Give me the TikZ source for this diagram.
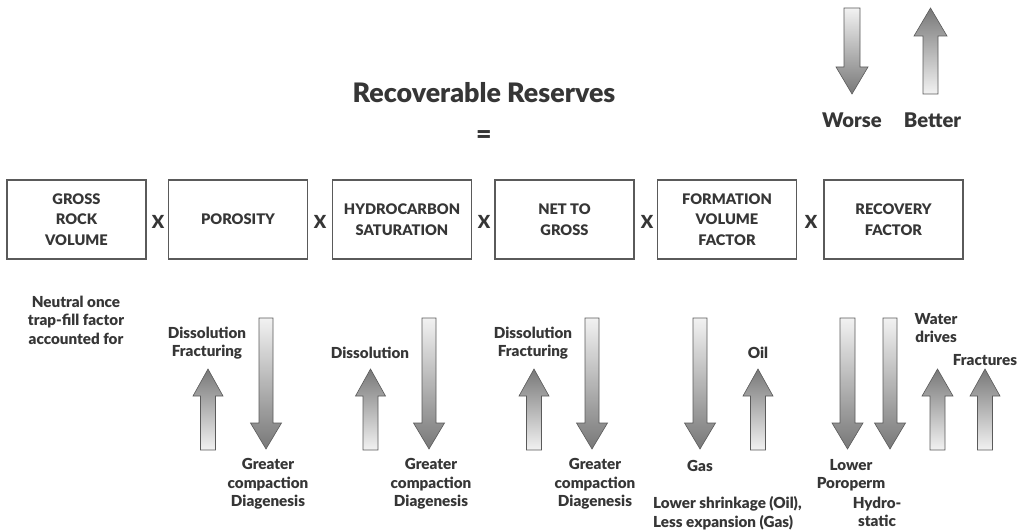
\documentclass[tikz,border=0pt]{standalone}
\usepackage{fontspec}
\setmainfont{Lato}[BoldFont={Lato Black}]
\definecolor{txt}{HTML}{363636}
\definecolor{edge}{HTML}{5A5A5A}
\definecolor{adark}{HTML}{787878}
\definecolor{alight}{HTML}{F2F2F2}
\tikzset{
  box/.style={draw=edge, line width=1.1pt, minimum width=139pt, minimum height=79pt,
    inner sep=0pt, align=center, text=txt, font=\bfseries\fontsize{14.6}{20.5}\selectfont},
  times/.style={text=txt, inner sep=0pt, font=\bfseries\fontsize{18}{18}\selectfont},
  lbl/.style={text=txt, inner sep=0pt, align=center, font=\bfseries\fontsize{15.2}{18.5}\selectfont},
  lbll/.style={lbl, align=left},
  title/.style={text=txt, inner sep=0pt, font=\bfseries\fontsize{26.8}{26.8}\selectfont},
  legend/.style={text=txt, inner sep=0pt, font=\bfseries\fontsize{20.2}{20.2}\selectfont},
  uparrow/.style={draw=edge, line width=0.6pt, top color=adark, bottom color=alight},
  downarrow/.style={draw=edge, line width=0.6pt, top color=alight, bottom color=adark},
}
% cx, tip y, bottom y, head height, head half width, shaft half width
\newcommand\shapeup[6]{%
  \shade[uparrow] (#1,#2) -- (#1+#5,#2+#4) -- (#1+#6,#2+#4) -- (#1+#6,#3)
    -- (#1-#6,#3) -- (#1-#6,#2+#4) -- (#1-#5,#2+#4) -- cycle;}
% cx, top y, tip y, head height, head half width, shaft half width
\newcommand\shapedown[6]{%
  \shade[downarrow] (#1-#6,#2) -- (#1+#6,#2) -- (#1+#6,#3-#4) -- (#1+#5,#3-#4)
    -- (#1,#3) -- (#1-#5,#3-#4) -- (#1-#6,#3-#4) -- cycle;}
\begin{document}
\begin{tikzpicture}[x=1pt,y=-1pt]
\useasboundingbox (0,0) rectangle (1026,532);

% title
\node[title, anchor=base] (title) at (484,103) {Recoverable Reserves};
\node[title] (eq) at (484,137) {=};

% legend
\shapedown{852}{8}{94}{27}{16}{8}
\shapeup{930.5}{8}{94}{28}{16.5}{7.5}
\node[legend, anchor=base] (worse) at (852,128) {Worse};
\node[legend, anchor=base] (better) at (932.5,128) {Better};

% boxes
\node[box] (grv) at (76.5,219.5) {GROSS\\ROCK\\VOLUME};
\node[box] (por) at (238,219.5) {POROSITY};
\node[box] (hcs) at (402,219.5) {HYDROCARBON\\SATURATION};
\node[box] (ntg) at (564.5,219.5) {NET TO\\GROSS};
\node[box] (fvf) at (727,219.5) {FORMATION\\VOLUME\\FACTOR};
\node[box] (rf) at (893.5,219.5) {RECOVERY\\FACTOR};

\node[times] (x1) at (158,222) {X};
\node[times] (x2) at (320,222) {X};
\node[times] (x3) at (484,222) {X};
\node[times] (x4) at (647,222) {X};
\node[times] (x5) at (811,222) {X};

% gross rock volume
\node[lbl] (neutral) at (76,320) {Neutral once\\trap-fill factor\\accounted for};

% porosity
\shapeup{208}{369}{450}{27}{15}{7.5}
\shapedown{266}{318}{449}{26}{15.5}{7}
\node[lbl] (pordis) at (207,343) {Dissolution\\Fracturing};
\node[lbl] (porcomp) at (268,484) {Greater\\compaction\\Diagenesis};

% HC saturation
\shapeup{370.5}{369}{450}{27}{15}{7.5}
\shapedown{429}{318}{449}{26}{15.5}{7}
\node[lbl] (hcsdis) at (370,353) {Dissolution};
\node[lbl] (hcscomp) at (431,484) {Greater\\compaction\\Diagenesis};

% net to gross
\shapeup{534}{369}{450}{27}{15}{7.5}
\shapedown{592}{318}{449}{26}{15.5}{7}
\node[lbl] (ntgdis) at (533,343) {Dissolution\\Fracturing};
\node[lbl] (ntgcomp) at (595,484) {Greater\\compaction\\Diagenesis};

% formation volume factor
\shapedown{700}{318}{449}{26}{15.5}{7}
\shapeup{758}{369}{450}{27}{15}{7.5}
\node[lbl] (oil) at (758,353) {Oil};
\node[lbl] (gas) at (700,466) {Gas};
\node[lbll, anchor=west] (shrink) at (653,513) {Lower shrinkage (Oil),\\Less expansion (Gas)};

% recovery factor
\shapedown{847.5}{318}{449}{26}{15.5}{7.5}
\shapedown{890}{318}{449}{26}{15.5}{7}
\shapeup{937.5}{369}{450}{27}{15.5}{7.5}
\shapeup{985}{369}{450}{27}{15}{7.5}
\node[lbl] (poroperm) at (851,475) {Lower\\Poroperm};
\node[lbl] (hydro) at (877,512) {Hydro-\\static};
\node[lbl] (water) at (936,328) {Water\\drives};
\node[lbl] (fract) at (985,360) {Fractures};
\end{tikzpicture}
\end{document}
